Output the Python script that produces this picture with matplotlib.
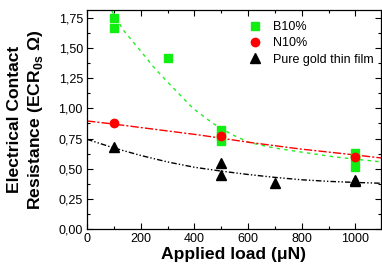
import matplotlib.pyplot as plt
from matplotlib.ticker import MultipleLocator, FuncFormatter

plt.rcParams['font.family'] = ['Liberation Sans', 'DejaVu Sans']
plt.rcParams['mathtext.fontset'] = 'custom'
plt.rcParams['mathtext.rm'] = 'Liberation Sans'
plt.rcParams['mathtext.bf'] = 'Liberation Sans:bold'

# measured points
loadB = [100, 100, 300, 500, 500, 500, 1000, 1000, 1000]
ecrB = [1.75, 1.67, 1.42, 0.82, 0.77, 0.73, 0.63, 0.59, 0.51]
loadN = [100, 500, 1000]
ecrN = [0.88, 0.77, 0.60]
loadAu = [100, 500, 500, 700, 1000, 1000]
ecrAu = [0.68, 0.55, 0.45, 0.38, 0.41, 0.40]

# fit curves
fitB_x = [92, 135, 191, 253, 321, 395, 469, 538, 606, 693, 792, 916, 1002, 1100]
fitB_y = [1.81, 1.65, 1.50, 1.33, 1.17, 1.00, 0.876, 0.785, 0.716, 0.674, 0.64, 0.60, 0.578, 0.556]
fitN_x = [0, 100, 420, 606, 792, 1002, 1100]
fitN_y = [0.896, 0.87, 0.779, 0.718, 0.664, 0.613, 0.588]
fitAu_x = [0, 100, 200, 300, 400, 500, 600, 700, 800, 900, 1000, 1100]
fitAu_y = [0.744, 0.672, 0.61, 0.556, 0.512, 0.48, 0.452, 0.428, 0.408, 0.395, 0.386, 0.379]

fig = plt.figure(figsize=(3.82, 2.68), dpi=100)
ax = fig.add_axes([87/382, 1-229/268, 294/382, 219/268])

green = '#11ee11'
ax.plot(fitB_x, fitB_y, color='#22ee22', lw=1.0, dashes=(2.5, 3))
ax.plot(fitN_x, fitN_y, color='red', lw=1.0, dashes=(6, 1.5, 1.5, 1.5))
ax.plot(fitAu_x, fitAu_y, color='black', lw=1.0, dashes=(4, 1.5, 1, 1.5, 1, 1.5))

ax.plot(loadB, ecrB, 's', color=green, ms=6, mec=green, ls='none', label='B10%')
ax.plot(loadN, ecrN, 'o', color='red', ms=6, mec='red', ls='none', label='N10%')
ax.plot(loadAu, ecrAu, '^', color='black', ms=7, ls='none', label='Pure gold thin film')

ax.set_xlim(0, 1095)
ax.set_ylim(0, 1.816)
ax.xaxis.set_major_locator(MultipleLocator(200))
ax.xaxis.set_minor_locator(MultipleLocator(100))
ax.yaxis.set_major_locator(MultipleLocator(0.25))
ax.yaxis.set_minor_locator(MultipleLocator(0.125))
ax.yaxis.set_major_formatter(FuncFormatter(lambda v, p: ('%.2f' % v).replace('.', ',')))
ax.tick_params(which='both', direction='in', top=True, right=True, labelsize=9, width=0.8)
ax.tick_params(which='major', length=4, pad=3)
ax.tick_params(which='minor', length=2)
for s in ax.spines.values():
    s.set_linewidth(0.9)

ax.set_xlabel('Applied load (μN)', fontsize=12.6, fontweight='bold', labelpad=1)
fig.text(26/382, 1-119.5/268, 'Electrical Contact\nResistance (ECR$_{\\mathbf{0s}}$ Ω)',
         rotation=90, ha='center', va='center', multialignment='center',
         fontsize=12.6, fontweight='bold', linespacing=1.3)

ax.legend(loc='upper left', bbox_to_anchor=(0.551, 0.95), frameon=False, fontsize=9,
          handlelength=1.0, handletextpad=0.9, borderaxespad=0, borderpad=0,
          labelspacing=0.35, numpoints=1)

fig.savefig('out.png', dpi=100)
